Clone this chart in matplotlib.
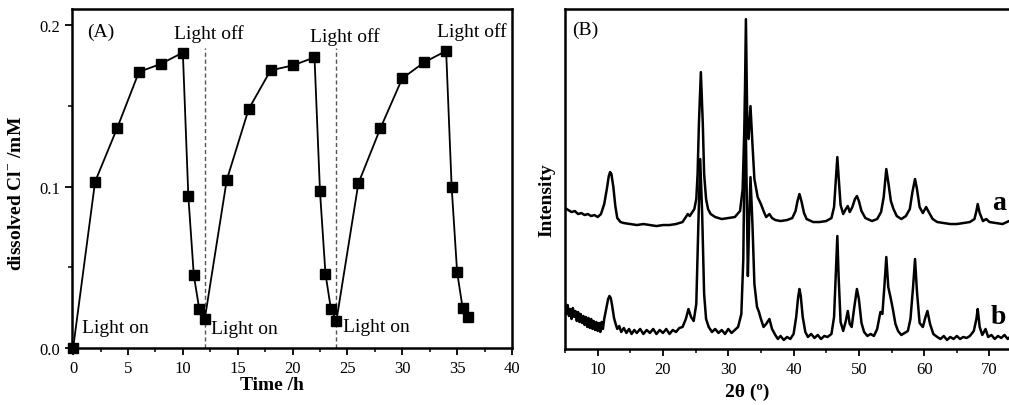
import matplotlib
matplotlib.use('Agg')
import matplotlib.pyplot as plt
from matplotlib.ticker import MultipleLocator

plt.rcParams['font.family'] = ['Liberation Serif', 'DejaVu Serif']
plt.rcParams['mathtext.fontset'] = 'custom'
plt.rcParams['mathtext.rm'] = 'Liberation Serif'
plt.rcParams['mathtext.bf'] = 'Liberation Serif:bold'

# (A) dissolved chloride vs time
time_h = [0, 2, 4, 6, 8, 10, 10.5, 11, 11.5, 12,
          14, 16, 18, 20, 22, 22.5, 23, 23.5, 24,
          26, 28, 30, 32, 34, 34.5, 35, 35.5, 36]
cl_mM = [0.0, 0.103, 0.136, 0.171, 0.176, 0.183, 0.094, 0.045, 0.024, 0.018,
         0.104, 0.148, 0.172, 0.175, 0.180, 0.097, 0.046, 0.024, 0.017,
         0.102, 0.136, 0.167, 0.177, 0.184, 0.100, 0.047, 0.025, 0.019]
light_off_t = [12, 24]

# (B) XRD patterns, a.u.
tth_a = [5.0, 5.5, 6.0, 6.5, 7.0, 7.5, 8.0, 8.5, 9.0, 9.5, 10.0, 10.5, 11.0, 11.4, 11.7, 11.9,
         12.1, 12.4, 12.7, 13.0, 13.5, 14.0, 15, 16, 17, 18, 19, 20, 21, 22, 23, 23.5, 23.8,
         24.1, 24.4, 24.8, 25.1, 25.3, 25.5, 25.8, 26.1, 26.3, 26.6, 26.9, 27.3, 28, 29, 30, 31,
         31.8, 32.2, 32.5, 32.7, 32.9, 33.1, 33.4, 33.7, 34.0, 34.5, 35.0, 35.4, 35.8, 36.3,
         36.7, 37.2, 38, 39, 39.8, 40.3, 40.6, 40.9, 41.2, 41.6, 42, 43, 44, 45, 45.8, 46.2,
         46.5, 46.7, 46.9, 47.2, 47.6, 48.0, 48.3, 48.6, 49.0, 49.4, 49.7, 50.0, 50.4, 51, 52,
         52.8, 53.4, 53.8, 54.2, 54.5, 54.9, 55.3, 55.8, 56.5, 57.2, 57.8, 58.2, 58.6, 58.9,
         59.3, 59.8, 60.3, 60.7, 61.3, 62, 63, 64, 65, 66, 67, 67.7, 68.0, 68.2, 68.5, 69,
         69.5, 70, 71, 72, 73, 74, 75]
int_a = [141, 139, 137, 138, 135, 136, 134, 135, 133, 134, 132, 135, 145, 160, 173, 177,
         175, 162, 143, 131, 127, 126, 125, 124, 125, 124, 123, 124, 124, 125, 127, 132, 135,
         133, 136, 140, 150, 175, 225, 277, 225, 175, 150, 140, 135, 132, 130, 131, 132,
         138, 160, 230, 330, 230, 210, 243, 205, 170, 152, 145, 138, 132, 135,
         131, 129, 128, 129, 131, 138, 148, 155, 148, 136, 130, 127, 127, 128, 131, 142,
         172, 192, 172, 144, 135, 140, 143, 137, 142, 150, 153, 148, 138, 131, 128,
         130, 137, 152, 180, 167, 148, 140, 133, 130, 133, 140, 157, 170, 160,
         142, 136, 142, 137, 130, 127, 126, 125, 125, 126, 127, 130, 138, 145, 136, 128,
         130, 127, 126, 125, 128, 127, 127]

tth_b = [5.0, 5.2, 5.4, 5.6, 5.8, 6.0, 6.2, 6.4, 6.6, 6.8, 7.0, 7.2, 7.4, 7.6, 7.8, 8.0, 8.2,
         8.4, 8.6, 8.8, 9.0, 9.2, 9.4, 9.6, 9.8, 10.0, 10.2, 10.4, 10.6, 10.8, 11.0, 11.3, 11.6,
         11.8, 12.0, 12.2, 12.5, 12.8, 13.0, 13.3, 13.6, 14.0, 14.4, 14.8, 15.2, 15.6, 16, 16.5,
         17, 17.5, 18, 18.5, 19, 19.5, 20, 20.5, 21, 21.5, 22, 22.5, 23, 23.5, 23.9, 24.3, 24.7,
         25.1, 25.4, 25.7, 26.0, 26.3, 26.6, 27, 27.5, 28, 28.5, 29, 29.5, 30, 30.5, 31, 31.5,
         32.0, 32.3, 32.6, 32.85, 33.0, 33.2, 33.4, 33.7, 34.0, 34.4, 34.7, 35.0, 35.4, 35.8,
         36.3, 36.7, 37.2, 37.6, 38, 38.5, 39, 39.5, 40.0, 40.4, 40.7, 40.9, 41.1, 41.4, 41.8,
         42.2, 42.7, 43.2, 43.7, 44.2, 44.7, 45.2, 45.8, 46.2, 46.5, 46.7, 46.9, 47.2, 47.6,
         48.0, 48.3, 48.6, 48.9, 49.3, 49.7, 50.0, 50.4, 50.8, 51.3, 51.8, 52.3, 52.8, 53.3,
         53.6, 53.9, 54.2, 54.5, 54.9, 55.2, 55.6, 56.0, 56.5, 57, 57.5, 57.9, 58.3, 58.6, 58.9,
         59.3, 59.8, 60.2, 60.5, 60.9, 61.4, 62, 62.5, 63, 63.5, 64, 64.5, 65, 65.5, 66, 66.5,
         67, 67.6, 68.0, 68.2, 68.5, 68.9, 69.4, 69.8, 70.3, 70.8, 71.3, 71.8, 72.3, 72.8,
         73.3, 74, 75]
int_b = [42, 35, 44, 33, 40, 30, 41, 32, 38, 28, 37, 27, 35, 26, 33, 24, 32,
         22, 31, 21, 30, 20, 28, 19, 27, 18, 26, 17, 27, 20, 30, 40, 50,
         53, 51, 44, 31, 24, 20, 23, 17, 21, 16, 20, 15, 19, 16, 20,
         15, 19, 16, 20, 15, 19, 16, 20, 15, 19, 17, 21, 22, 30, 40, 32, 28,
         45, 120, 190, 135, 55, 30, 22, 17, 20, 16, 19, 15, 20, 16, 19, 22,
         35, 90, 260, 140, 73, 130, 172, 125, 65, 42, 37, 30, 22, 25,
         30, 20, 14, 10, 13, 9, 12, 10, 15, 32, 52, 60, 53, 32, 17,
         12, 15, 11, 14, 10, 13, 12, 15, 32, 82, 113, 72, 27, 18,
         28, 38, 25, 22, 42, 60, 50, 26, 17, 13, 15, 13, 20, 37,
         35, 62, 92, 62, 50, 40, 25, 18, 14, 16, 18, 30, 62, 90, 57,
         26, 22, 32, 38, 25, 15, 12, 10, 13, 9, 12, 10, 13, 10, 12, 11,
         13, 18, 30, 40, 22, 14, 20, 12, 14, 10, 13, 11, 14, 10,
         13, 11, 12]

fig = plt.figure(figsize=(10.09, 4.06), dpi=100)

# ---- panel A
axA = fig.add_axes([0.0714, 0.1404, 0.436, 0.835])
axA.plot(time_h, cl_mM, '-', color='black', lw=1.3, marker='s', ms=7.5,
         mfc='black', mec='black', clip_on=False, zorder=3)
for t in light_off_t:
    axA.plot([t, t], [0, 0.186], color='#555555', lw=1, dashes=(3, 2))
axA.set_xlim(-0.1, 40)
axA.set_ylim(0, 0.21)
axA.xaxis.set_major_locator(MultipleLocator(5))
axA.xaxis.set_minor_locator(MultipleLocator(2.5))
axA.yaxis.set_major_locator(MultipleLocator(0.1))
axA.yaxis.set_minor_locator(MultipleLocator(0.05))
axA.set_yticks([0, 0.1, 0.2])
axA.set_yticklabels(['0.0', '0.1', '0.2'])
axA.text(1.3, 0.1934, '(A)', fontsize=14)
axA.text(0.8, 0.0101, 'Light on', fontsize=14)
axA.text(12.6, 0.0091, 'Light on', fontsize=14)
axA.text(24.6, 0.0103, 'Light on', fontsize=14)
axA.text(9.2, 0.192, 'Light off', fontsize=14)
axA.text(21.6, 0.190, 'Light off', fontsize=14)
axA.text(33.2, 0.1934, 'Light off', fontsize=14)
axA.set_xlabel('Time /h', fontsize=14, fontweight='bold')
axA.set_ylabel(r'dissolved Cl$^{-}$ /mM', fontsize=14, fontweight='bold')
axA.xaxis.set_label_coords(0.455, -0.083)
axA.yaxis.set_label_coords(-0.107, 0.46)

# ---- panel B
axB = fig.add_axes([0.56, 0.138, 0.453, 0.837])
axB.plot(tth_a, int_a, color='black', lw=1.8)
axB.plot(tth_b, int_b, color='black', lw=1.8)
axB.set_xlim(5, 75)
axB.set_ylim(0, 340)
axB.xaxis.set_major_locator(MultipleLocator(10))
axB.xaxis.set_minor_locator(MultipleLocator(5))
axB.set_yticks([])
axB.text(6.1, 320, '(B)', fontsize=14, va='center')
axB.text(71.4, 147, 'a', fontsize=20, fontweight='bold', ha='center', va='center')
axB.text(71.4, 32, 'b', fontsize=20, fontweight='bold', ha='center', va='center')
axB.set_xlabel('2θ (º)', fontsize=14, fontweight='bold')
axB.set_ylabel('Intensity', fontsize=14, fontweight='bold')
axB.xaxis.set_label_coords(0.398, -0.1)
axB.yaxis.set_label_coords(-0.022, 0.44)

for ax in (axA, axB):
    for sp in ax.spines.values():
        sp.set_linewidth(1.8)
    ax.tick_params(which='major', direction='out', length=5, width=1.3, labelsize=12)
    ax.tick_params(which='minor', direction='out', length=3, width=1.1)
axB.spines['right'].set_visible(False)

fig.savefig('out.png', dpi=100)
